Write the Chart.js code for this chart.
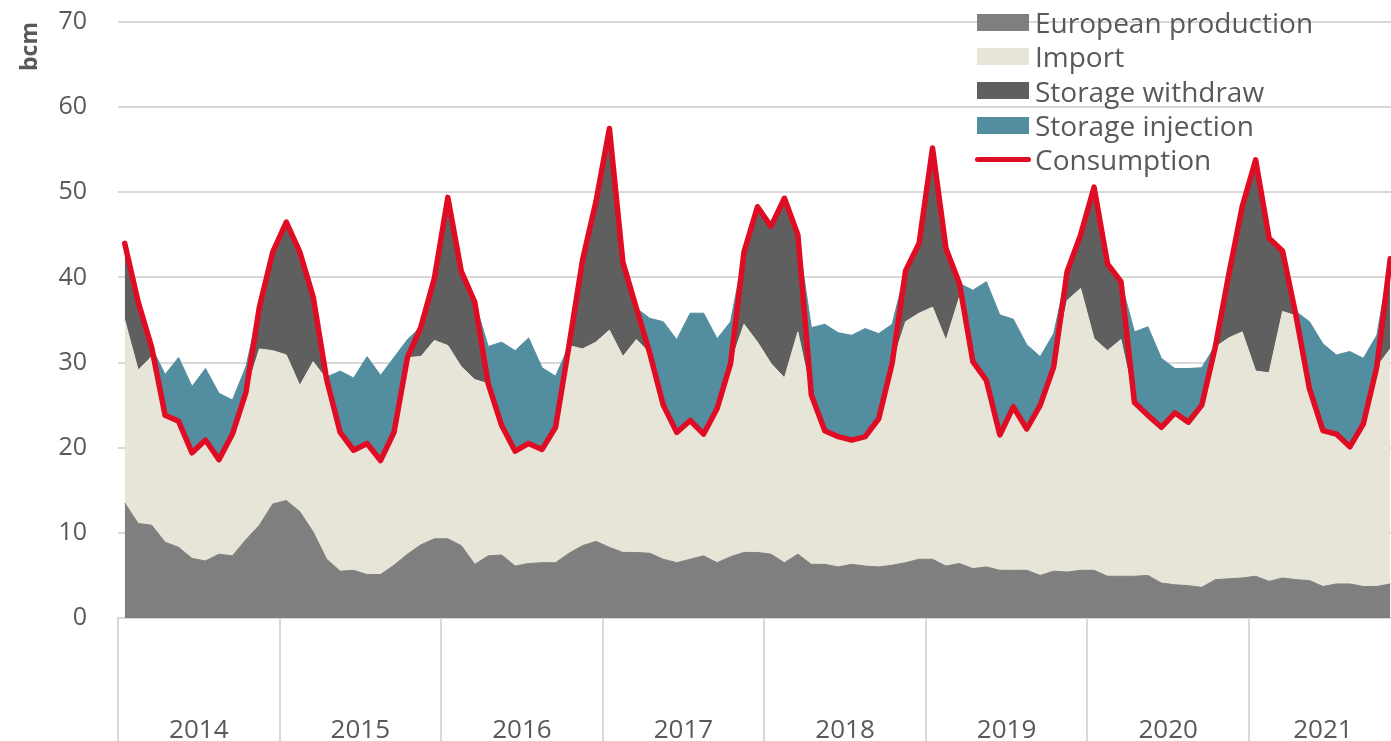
<!DOCTYPE html>
<html>
<head>
<meta charset="utf-8">
<title>European gas balance</title>
<script src="https://cdn.jsdelivr.net/npm/chart.js@4.4.1/dist/chart.umd.min.js"></script>
<style>
  html, body { margin: 0; padding: 0; background: #fff; overflow: hidden; }
  #wrap { position: relative; width: 1391px; height: 741px; overflow: hidden; }
  #gas-chart { position: absolute; left: 0; top: 0; }
  #legend {
    position: absolute; left: 975px; top: 5px;
    font-family: 'Open Sans', sans-serif; font-size: 28px; color: #595959;
  }
  #legend .item { display: flex; align-items: center; height: 34.3px; white-space: nowrap; }
  #legend .swatch { width: 52px; height: 17px; margin: 0 6px 0 2px; }
  #legend .stroke { width: 56px; height: 5px; border-radius: 3px; margin-right: 4px; }
</style>
</head>
<body>
<div id="wrap">
  <canvas id="gas-chart" width="1397" height="741"></canvas>
  <div id="legend"></div>
</div>
<script>
// Monthly values, Jan 2014 .. Nov 2021 (bcm)
const years = ['2014', '2015', '2016', '2017', '2018', '2019', '2020', '2021'];

const production = [
  13.5, 11.1, 10.9, 8.9, 8.3, 7.0, 6.7, 7.5, 7.3, 9.2, 10.9, 13.4,
  13.8, 12.5, 10.1, 6.9, 5.5, 5.6, 5.1, 5.1, 6.2, 7.5, 8.6, 9.3,
  9.3, 8.5, 6.3, 7.3, 7.4, 6.1, 6.4, 6.5, 6.5, 7.6, 8.5, 9.0,
  8.3, 7.7, 7.7, 7.6, 6.9, 6.5, 6.9, 7.3, 6.5, 7.2, 7.7, 7.7,
  7.5, 6.5, 7.5, 6.3, 6.3, 6.0, 6.3, 6.1, 6.0, 6.2, 6.5, 6.9,
  6.9, 6.1, 6.4, 5.8, 6.0, 5.6, 5.6, 5.6, 5.0, 5.5, 5.4, 5.6,
  5.6, 4.9, 4.9, 4.9, 5.0, 4.1, 3.9, 3.8, 3.6, 4.5, 4.6, 4.7,
  4.9, 4.3, 4.7, 4.5, 4.4, 3.7, 4.0, 4.0, 3.7, 3.7, 4.0
];

const imports = [
  21.5, 18.0, 19.8, 14.9, 14.8, 12.4, 14.2, 11.1, 14.3, 17.3, 20.7, 18.0,
  17.1, 14.8, 20.0, 21.1, 16.3, 14.1, 15.4, 13.4, 15.6, 23.1, 22.1, 23.3,
  22.7, 21.0, 21.7, 20.2, 15.2, 13.5, 14.1, 13.3, 15.9, 24.4, 23.1, 23.4,
  25.5, 23.0, 25.0, 23.5, 18.1, 15.3, 16.3, 14.3, 18.1, 22.7, 26.8, 24.7,
  22.4, 21.7, 26.1, 19.9, 15.7, 15.3, 14.6, 15.2, 17.4, 23.7, 28.3, 28.9,
  29.6, 26.5, 31.3, 24.3, 21.9, 15.9, 19.2, 16.6, 20.0, 24.0, 31.9, 33.1,
  27.2, 26.5, 27.8, 20.4, 18.8, 18.3, 20.2, 19.2, 21.4, 27.3, 28.3, 28.9,
  24.1, 24.5, 31.3, 31.0, 22.5, 18.3, 17.6, 16.1, 19.1, 25.8, 27.6
];

const withdraw = [
  9.0, 8.0, 1.1, 0, 0, 0, 0, 0, 0, 0, 4.9, 11.6,
  15.6, 15.7, 7.6, 0, 0, 0, 0, 0, 0, 0, 3.5, 7.3,
  17.4, 11.2, 9.1, 0, 0, 0, 0, 0, 0, 0, 10.4, 16.5,
  23.7, 11.1, 3.7, 0, 0, 0, 0, 0, 0, 0, 8.5, 15.9,
  16.1, 21.1, 11.4, 0, 0, 0, 0, 0, 0, 0, 6.0, 8.2,
  18.7, 10.8, 1.6, 0, 0, 0, 0, 0, 0, 0, 3.4, 6.3,
  17.8, 10.2, 6.8, 0, 0, 0, 0, 0, 0, 0, 7.4, 14.7,
  24.8, 15.8, 7.1, 0, 0, 0, 0, 0, 0, 0, 10.6
];

const injection = [
  0, 0, 0, 4.8, 7.5, 7.8, 8.4, 7.8, 4.0, 3.0, 0, 0,
  0, 0, 0, 0.3, 7.2, 8.5, 10.2, 10.0, 8.8, 2.1, 0, 0,
  0, 0, 0, 4.4, 9.8, 11.8, 12.4, 9.6, 6.0, 0, 0, 0,
  0, 0, 0, 4.1, 9.8, 10.9, 12.6, 14.2, 8.2, 4.9, 0, 0,
  0, 0, 0, 7.9, 12.5, 12.2, 12.3, 12.7, 10.0, 4.6, 0, 0,
  0, 0, 0, 8.4, 11.6, 14.1, 10.3, 9.9, 5.7, 3.9, 0, 0,
  0, 0, 0, 8.3, 10.4, 8.1, 5.2, 6.3, 4.4, 0.2, 0, 0,
  0, 0, 0, 0.5, 7.9, 10.2, 9.3, 11.2, 7.7, 3.7, 0
];

const consumption = [
  44.0, 37.1, 31.8, 23.8, 23.1, 19.4, 20.9, 18.6, 21.6, 26.5, 36.5, 43.0,
  46.5, 43.0, 37.7, 28.0, 21.8, 19.7, 20.5, 18.5, 21.8, 30.6, 34.2, 39.9,
  49.4, 40.7, 37.1, 27.5, 22.6, 19.6, 20.5, 19.8, 22.4, 32.0, 42.0, 48.9,
  57.5, 41.8, 36.4, 31.1, 25.0, 21.8, 23.2, 21.6, 24.6, 29.9, 43.0, 48.3,
  46.0, 49.3, 45.0, 26.2, 22.0, 21.3, 20.9, 21.3, 23.4, 29.9, 40.8, 44.0,
  55.2, 43.4, 39.3, 30.1, 27.9, 21.5, 24.8, 22.2, 25.0, 29.5, 40.7, 45.0,
  50.6, 41.6, 39.5, 25.3, 23.8, 22.4, 24.1, 23.0, 25.0, 31.8, 40.3, 48.3,
  53.8, 44.6, 43.1, 35.5, 26.9, 22.0, 21.6, 20.1, 22.8, 29.5, 42.2
];

const seriesNames = ['European production', 'Import', 'Storage withdraw', 'Storage injection', 'Consumption'];
const seriesColors = ['#7f7f7f', '#e7e4d8', '#5f5f5f', '#528e9f', '#e00c24'];

document.addEventListener('DOMContentLoaded', () => {

  /* ========================================================
     1. X AXIS: year separators + centred year labels
     ======================================================== */
  const monthCount = consumption.length;
  const boundaryTicks = [];
  const yearLabelAt = new Map();
  years.forEach((yr, k) => {
    const start = k * 12;
    const count = Math.min(12, monthCount - start);
    boundaryTicks.push(start - 0.5);
    yearLabelAt.set(start + (count - 1) / 2, yr);
  });
  boundaryTicks.push(monthCount - 0.5);
  const xTickValues = boundaryTicks.concat([...yearLabelAt.keys()]).sort((a, b) => a - b);

  const toPoints = arr => arr.map((v, i) => ({ x: i, y: v }));

  /* ========================================================
     2. DATASETS (consumption first so it is painted on top)
     ======================================================== */
  const areaSeries = [production, imports, withdraw, injection];
  const datasets = [{
    label: seriesNames[4],
    data: toPoints(consumption),
    stack: 'consumption',
    borderColor: seriesColors[4],
    borderWidth: 5.5,
    borderJoinStyle: 'round',
    borderCapStyle: 'round',
    fill: false
  }];
  areaSeries.forEach((arr, i) => {
    datasets.push({
      label: seriesNames[i],
      data: toPoints(arr),
      stack: 'supply',
      backgroundColor: seriesColors[i],
      borderColor: seriesColors[i],
      borderWidth: 1,
      fill: i === 0 ? 'origin' : '-1'
    });
  });

  const font = "'Open Sans', sans-serif";

  new Chart(document.getElementById('gas-chart').getContext('2d'), {
    type: 'line',
    data: { datasets },
    options: {
      responsive: false,
      animation: false,
      layout: { padding: { top: 22, right: 0, bottom: 0, left: 0 } },
      elements: { point: { radius: 0 }, line: { tension: 0 } },
      plugins: { legend: { display: false }, tooltip: { enabled: false } },
      scales: {
        x: {
          type: 'linear',
          min: -0.5,
          max: monthCount - 0.5,
          afterBuildTicks: axis => { axis.ticks = xTickValues.map(v => ({ value: v })); },
          afterFit: axis => { axis.height = 741 - 618; },
          ticks: {
            autoSkip: false,
            maxRotation: 0,
            padding: -26,
            color: '#595959',
            font: { family: font, size: 26 },
            callback: v => yearLabelAt.get(v) || ''
          },
          grid: {
            drawOnChartArea: false,
            tickLength: 123,
            lineWidth: 2,
            color: c => (c.tick && yearLabelAt.has(c.tick.value)) ? 'rgba(0,0,0,0)' : '#d9d9d9'
          },
          border: { color: '#d9d9d9', width: 2 }
        },
        y: {
          stacked: true,
          min: 0,
          max: 70,
          afterFit: axis => {
            axis.width = 118;
            // keep the plot top pinned to the layout padding
            axis.paddingTop = 0;
            axis.paddingBottom = 0;
          },
          ticks: {
            stepSize: 10,
            padding: 31,
            color: '#595959',
            font: { family: font, size: 25 }
          },
          grid: { color: '#d9d9d9', lineWidth: 2, drawTicks: false },
          border: { display: false },
          title: {
            display: true,
            text: 'bcm',
            align: 'end',
            color: '#595959',
            padding: { top: 17, bottom: 0 },
            font: { family: font, size: 23, weight: 'bold' }
          }
        }
      }
    }
  });

  /* ========================================================
     3. LEGEND (html, top right over the plot)
     ======================================================== */
  const legendEl = document.getElementById('legend');
  seriesNames.forEach((name, i) => {
    const mark = i === 4
      ? `<span class="stroke" style="background:${seriesColors[i]}"></span>`
      : `<span class="swatch" style="background:${seriesColors[i]}"></span>`;
    legendEl.innerHTML += `<div class="item">${mark}<span>${name}</span></div>`;
  });

});
</script>
</body>
</html>
